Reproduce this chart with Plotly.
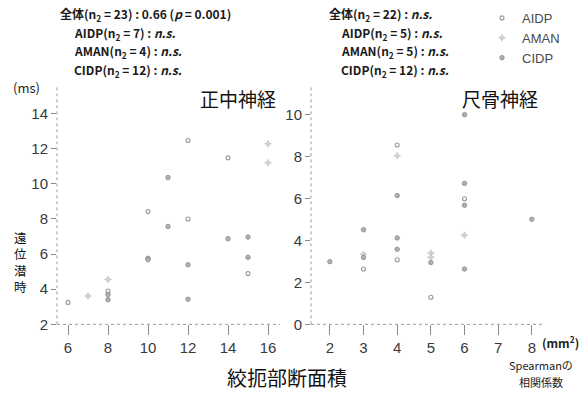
import plotly.graph_objects as go

# ---- Data ----
# Median nerve (正中神経): x = CSA (mm^2), y = distal latency (ms)
med_aidp_x = [6, 8, 10, 12, 14, 15, 12]
med_aidp_y = [3.25, 3.9, 8.42, 12.47, 11.48, 4.89, 8.0]
med_aman_x = [7, 8, 16, 16]
med_aman_y = [3.62, 4.55, 12.28, 11.2]
med_cidp_x = [8, 8, 10, 10, 11, 11, 12, 12, 14, 15, 15]
med_cidp_y = [3.7, 3.4, 5.76, 5.68, 10.36, 7.57, 5.39, 3.43, 6.88, 6.97, 5.82]

# Ulnar nerve (尺骨神経)
uln_aidp_x = [3, 4, 4, 6, 5]
uln_aidp_y = [2.64, 8.55, 3.08, 5.99, 1.29]
uln_aman_x = [3, 4, 5, 6, 5]
uln_aman_y = [3.34, 8.04, 3.4, 4.25, 3.2]
uln_cidp_x = [2, 3, 3, 4, 4, 4, 5, 6, 6, 6, 6, 8]
uln_cidp_y = [2.99, 4.51, 3.19, 6.14, 4.12, 3.58, 2.95, 10.0, 6.72, 5.68, 2.64, 5.01]

med_xticks = [6, 8, 10, 12, 14, 16]
med_yticks = [2, 4, 6, 8, 10, 12, 14]
uln_xticks = [2, 3, 4, 5, 6, 7, 8]
uln_yticks = [0, 2, 4, 6, 8, 10]

groups = ["AIDP", "AMAN", "CIDP"]

W, H = 583, 397
def px(x): return x / W
def py(y): return 1 - y / H

styles = {
    "AIDP": dict(symbol="circle-open", size=4, color="#9a9a9a", line=dict(width=1.1, color="#9a9a9a")),
    "AMAN": dict(symbol="star-diamond", size=5, color="#d0d0d0", line=dict(width=0.5, color="#bdbdbd")),
    "CIDP": dict(symbol="circle", size=4.5, color="#b0b0b0", line=dict(width=0.8, color="#8a8a8a")),
}

fig = go.Figure()
med = {"AIDP": (med_aidp_x, med_aidp_y), "AMAN": (med_aman_x, med_aman_y), "CIDP": (med_cidp_x, med_cidp_y)}
uln = {"AIDP": (uln_aidp_x, uln_aidp_y), "AMAN": (uln_aman_x, uln_aman_y), "CIDP": (uln_cidp_x, uln_cidp_y)}
for g in groups:
    fig.add_trace(go.Scatter(x=med[g][0], y=med[g][1], mode="markers", name=g,
                             marker=styles[g], xaxis="x", yaxis="y", showlegend=True))
for g in groups:
    fig.add_trace(go.Scatter(x=uln[g][0], y=uln[g][1], mode="markers", name=g,
                             marker=styles[g], xaxis="x2", yaxis="y2", showlegend=False))

tickfont = dict(family="Liberation Sans, Arial, sans-serif", size=15, color="#3a3a3a")
common = dict(showgrid=False, zeroline=False, showline=False, ticks="outside",
              tickwidth=1, tickcolor="#8a8a8a", tickfont=tickfont)

bottom_px, top_px = 331, 88
ydom = [py(bottom_px), py(top_px)]
# value ranges chosen so that tick positions match the reference
med_y0, med_y1 = 2, 2 + (bottom_px - top_px) / 17.92
uln_y0, uln_y1 = 0, (bottom_px - top_px) / 21.4

fig.update_layout(
    width=W, height=H, margin=dict(l=0, r=0, t=0, b=0),
    paper_bgcolor="white", plot_bgcolor="white",
    xaxis=dict(domain=[px(57), px(280)], range=[5.45, 16.6], tickvals=med_xticks,
               anchor="y", ticklen=10, **common),
    yaxis=dict(domain=ydom, range=[med_y0, med_y1], tickvals=med_yticks,
               anchor="x", ticklen=5, **common),
    xaxis2=dict(domain=[px(311), px(545)], range=[1.44, 8.39], tickvals=uln_xticks,
                anchor="y2", ticklen=10, **common),
    yaxis2=dict(domain=ydom, range=[uln_y0, uln_y1], tickvals=uln_yticks,
                anchor="x2", ticklen=5, **common),
    legend=dict(x=px(482), y=py(3), xanchor="left", yanchor="top",
                font=dict(family="Liberation Sans, Arial, sans-serif", size=13, color="#4a4a4a"),
                bgcolor="rgba(0,0,0,0)", itemwidth=30, tracegroupgap=0,
                borderwidth=0),
    showlegend=True,
)

# dotted axis lines
for xr, yr in (("x domain", "y domain"), ("x2 domain", "y2 domain")):
    fig.add_shape(type="line", xref=xr, yref=yr, x0=0, x1=1, y0=0, y1=0,
                  line=dict(color="#9a9a9a", width=1, dash="dot"))
    fig.add_shape(type="line", xref=xr, yref=yr, x0=0, x1=0, y0=0, y1=1,
                  line=dict(color="#9a9a9a", width=1, dash="dot"))

cjk = "Noto Sans CJK JP"
def ann(text, x, y, size=12, xanchor="left", color="#1a1a1a", **kw):
    fig.add_annotation(text=text, x=px(x), y=py(y), xref="paper", yref="paper",
                       xanchor=xanchor, yanchor="middle", showarrow=False,
                       font=dict(family=cjk, size=size, color=color), **kw)

# statistics text
ann("<b>全体(n<sub>2</sub> = 23) : 0.66 (<i>p</i> = 0.001)</b>", 58, 15)
ann("<b>AIDP(n<sub>2</sub> = 7) : <i>n.s.</i></b>", 72, 34)
ann("<b>AMAN(n<sub>2</sub> = 4) : <i>n.s.</i></b>", 72, 53)
ann("<b>CIDP(n<sub>2</sub> = 12) : <i>n.s.</i></b>", 72, 72)
ann("<b>全体(n<sub>2</sub> = 22) : <i>n.s.</i></b>", 327, 15)
ann("<b>AIDP(n<sub>2</sub> = 5) : <i>n.s.</i></b>", 339, 34)
ann("<b>AMAN(n<sub>2</sub> = 5) : <i>n.s.</i></b>", 339, 53)
ann("<b>CIDP(n<sub>2</sub> = 12) : <i>n.s.</i></b>", 339, 72)

# panel titles
ann("正中神経", 238, 101, size=19, xanchor="center", color="#111")
ann("尺骨神経", 500, 101, size=19, xanchor="center", color="#111")

# axis labels
ann("(ms)", 26, 89, size=13, xanchor="center", color="#222")
ann("遠<br>位<br>潜<br>時", 20, 267, size=12.5, xanchor="center", color="#111")
ann("絞扼部断面積", 287, 385, size=20, xanchor="center", color="#111")
ann("<b>(mm<sup>2</sup>)</b>", 581, 349, size=12, xanchor="right", color="#222")
ann("Spearmanの", 541, 373, size=11, xanchor="center", color="#222")
ann("相関係数", 541, 390, size=11, xanchor="center", color="#222")

fig.write_html("out.html", config={"displayModeBar": False},
               post_script="document.body.style.margin='0';document.body.style.overflow='hidden';")
